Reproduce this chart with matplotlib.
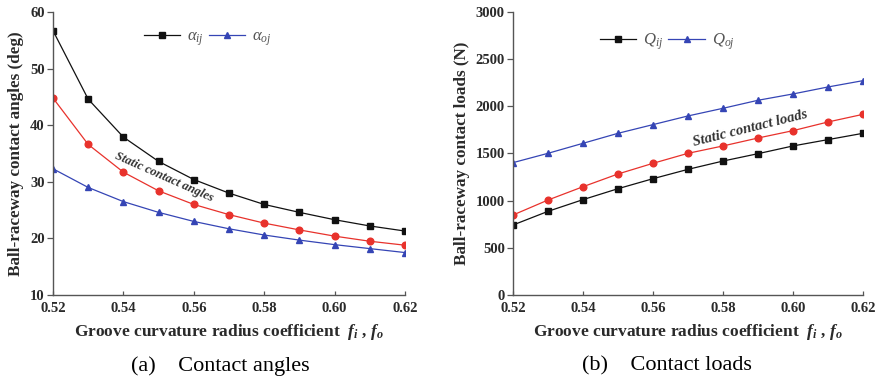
"""Contact angles and contact loads vs groove curvature radius coefficient."""

import matplotlib
matplotlib.use("Agg")
import matplotlib.pyplot as plt

plt.rcParams['font.family'] = ['Liberation Serif', 'DejaVu Serif']
plt.rcParams['mathtext.fontset'] = 'custom'
plt.rcParams['mathtext.rm'] = 'Liberation Serif'
plt.rcParams['mathtext.it'] = 'Liberation Serif:italic'
plt.rcParams['mathtext.bf'] = 'Liberation Serif:bold:italic'

f_coef = [0.52, 0.53, 0.54, 0.55, 0.56, 0.57, 0.58, 0.59, 0.60, 0.61, 0.62]

# contact angles (deg)
alpha_ij = [56.7, 44.6, 37.9, 33.6, 30.4, 28.0, 26.0, 24.6, 23.3, 22.2, 21.3]
alpha_static = [44.8, 36.6, 31.7, 28.4, 26.0, 24.2, 22.7, 21.5, 20.4, 19.5, 18.8]
alpha_oj = [32.3, 29.0, 26.5, 24.6, 23.0, 21.7, 20.6, 19.7, 18.9, 18.2, 17.5]

# contact loads (N)
Q_ij = [742, 887, 1011, 1127, 1233, 1332, 1420, 1498, 1580, 1647, 1714]
Q_static = [848, 1007, 1148, 1283, 1396, 1502, 1580, 1664, 1742, 1834, 1915]
Q_oj = [1403, 1502, 1608, 1714, 1806, 1898, 1979, 2064, 2131, 2205, 2272]

xticks = [0.52, 0.54, 0.56, 0.58, 0.60, 0.62]

BLACK = '#111111'
RED = '#e8322c'
BLUE = '#3545b5'
SPINE = '#555555'

fig = plt.figure(figsize=(8.8, 3.82), dpi=100)
ax1 = fig.add_axes([0.0602, 0.2277, 0.400, 0.741])
ax2 = fig.add_axes([0.583, 0.2277, 0.3977, 0.741])


def style_axis(ax, ylim, yticks, ylabel):
    ax.set_xlim(0.52, 0.62)
    ax.set_ylim(*ylim)
    ax.set_xticks(xticks)
    ax.set_xticklabels([f"{t:.2f}" for t in xticks])
    ax.set_yticks(yticks)
    for s in ['top', 'right']:
        ax.spines[s].set_visible(False)
    for s in ['left', 'bottom']:
        ax.spines[s].set_color(SPINE)
        ax.spines[s].set_linewidth(1.0)
    ax.tick_params(axis='x', direction='in', length=3, width=0.9, color=SPINE,
                   labelsize=10.5, pad=5)
    ax.tick_params(axis='y', direction='out', length=4, width=0.9, color=SPINE,
                   labelsize=10.5, pad=2)
    for lab in ax.get_xticklabels() + ax.get_yticklabels():
        lab.set_fontweight('bold')
        lab.set_color('#2a2a2a')
    ax.set_xlabel(r"Groove curvature radius coefficient  $\mathbf{f_i}$ , $\mathbf{f_o}$",
                  fontsize=12.5, fontweight='bold', color='#2a2a2a', labelpad=5)
    ax.set_ylabel(ylabel, fontsize=12.3, fontweight='bold', color='#2a2a2a', labelpad=4)


line_kw = dict(linewidth=0.9, markersize=4.8)

ax1.plot(f_coef, alpha_ij, '-s', color=BLACK, label=r'$\alpha_{ij}$', **line_kw)
ax1.plot(f_coef, alpha_oj, '-^', color=BLUE, label=r'$\alpha_{oj}$', **line_kw)
ax1.plot(f_coef, alpha_static, '-o', color=RED, **line_kw)
style_axis(ax1, (10, 60), [10, 20, 30, 40, 50, 60], "Ball-raceway contact angles (deg)")
ax1.text(0.5515, 30.9, "Static contact angles", rotation=-24, ha='center', va='center',
         rotation_mode='anchor', fontsize=9, fontweight='bold', style='italic',
         color='#333333')

ax2.plot(f_coef, Q_ij, '-s', color=BLACK, label=r'$Q_{ij}$', **line_kw)
ax2.plot(f_coef, Q_oj, '-^', color=BLUE, label=r'$Q_{oj}$', **line_kw)
ax2.plot(f_coef, Q_static, '-o', color=RED, **line_kw)
style_axis(ax2, (0, 3000), [0, 500, 1000, 1500, 2000, 2500, 3000],
           "Ball-raceway contact loads (N)")
ax2.text(0.5878, 1770, "Static contact loads", rotation=14, ha='center', va='center',
         rotation_mode='anchor', fontsize=10.5, fontweight='bold', style='italic',
         color='#333333')

for ax, anchor in [(ax1, (0.21, 1.0)), (ax2, (0.20, 0.99))]:
    leg = ax.legend(loc='upper left', bbox_to_anchor=anchor, ncol=2, frameon=False,
                    fontsize=12, handlelength=2.2, handletextpad=0.4,
                    columnspacing=0.3, borderaxespad=0.6)
    for t in leg.get_texts():
        t.set_color('#555555')

fig.text(0.25, 0.042, "(a)    Contact angles", ha='center', va='center', fontsize=16)
fig.text(0.758, 0.042, "(b)    Contact loads", ha='center', va='center', fontsize=16)

fig.savefig("out.png", dpi=100, facecolor='white')
